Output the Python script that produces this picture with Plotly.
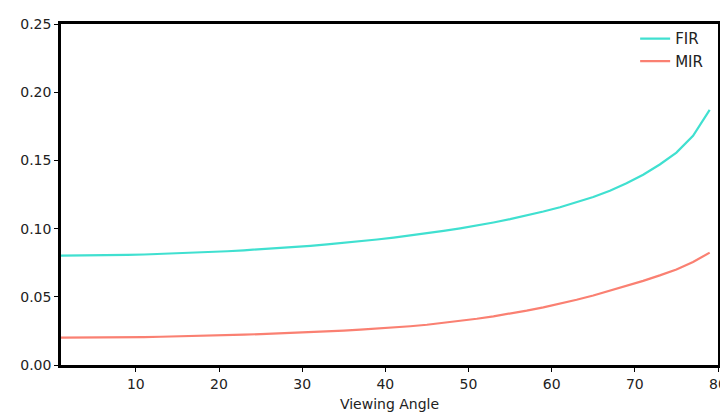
import plotly.graph_objects as go

angles = list(range(1, 80, 2))

fir = [0.0802, 0.0802, 0.0803, 0.0805, 0.0807, 0.0810, 0.0814, 0.0818, 0.0823, 0.0828,
       0.0834, 0.0841, 0.0848, 0.0856, 0.0865, 0.0874, 0.0884, 0.0895, 0.0907, 0.0920,
       0.0934, 0.0949, 0.0965, 0.0983, 0.1002, 0.1022, 0.1045, 0.1069, 0.1096, 0.1125,
       0.1157, 0.1192, 0.1232, 0.1278, 0.1332, 0.1395, 0.1470, 0.1557, 0.1680, 0.1870]

mir = [0.0200, 0.0200, 0.0201, 0.0202, 0.0203, 0.0205, 0.0207, 0.0209, 0.0212, 0.0215,
       0.0218, 0.0222, 0.0227, 0.0231, 0.0236, 0.0241, 0.0247, 0.0252, 0.0259, 0.0266,
       0.0274, 0.0284, 0.0295, 0.0308, 0.0322, 0.0339, 0.0357, 0.0377, 0.0399, 0.0423,
       0.0449, 0.0478, 0.0510, 0.0545, 0.0580, 0.0617, 0.0657, 0.0700, 0.0755, 0.0824]

x_ticks = [10, 20, 30, 40, 50, 60, 70, 80]
y_ticks = [0.00, 0.05, 0.10, 0.15, 0.20, 0.25]

fig = go.Figure()
fig.add_trace(go.Scatter(x=angles, y=fir, mode="lines", name="FIR",
                         line=dict(color="#40E0D0", width=2.2)))
fig.add_trace(go.Scatter(x=angles, y=mir, mode="lines", name="MIR",
                         line=dict(color="#FA8072", width=2.2)))

font = dict(family="DejaVu Sans", size=14, color="#222222")
axis_common = dict(showline=True, linecolor="black", linewidth=2.5, mirror=True,
                   ticks="outside", ticklen=4, tickwidth=1, tickcolor="black",
                   showgrid=False, zeroline=False, tickfont=font)

fig.update_layout(
    width=728, height=414,
    margin=dict(l=53, r=18, t=8, b=57),
    paper_bgcolor="white", plot_bgcolor="white",
    font=font,
    xaxis=dict(range=[1, 80], tickvals=x_ticks,
               title=dict(text="Viewing Angle", font=font, standoff=9), **axis_common),
    yaxis=dict(range=[0, 0.25], tickvals=y_ticks, tickformat=".2f", **axis_common),
    legend=dict(x=0.985, xanchor="right", y=1.005, yanchor="top",
                bgcolor="rgba(0,0,0,0)", font=dict(family="DejaVu Sans", size=15, color="#222222"),
                tracegroupgap=0),
    showlegend=True,
)

fig.write_html("out.html")
